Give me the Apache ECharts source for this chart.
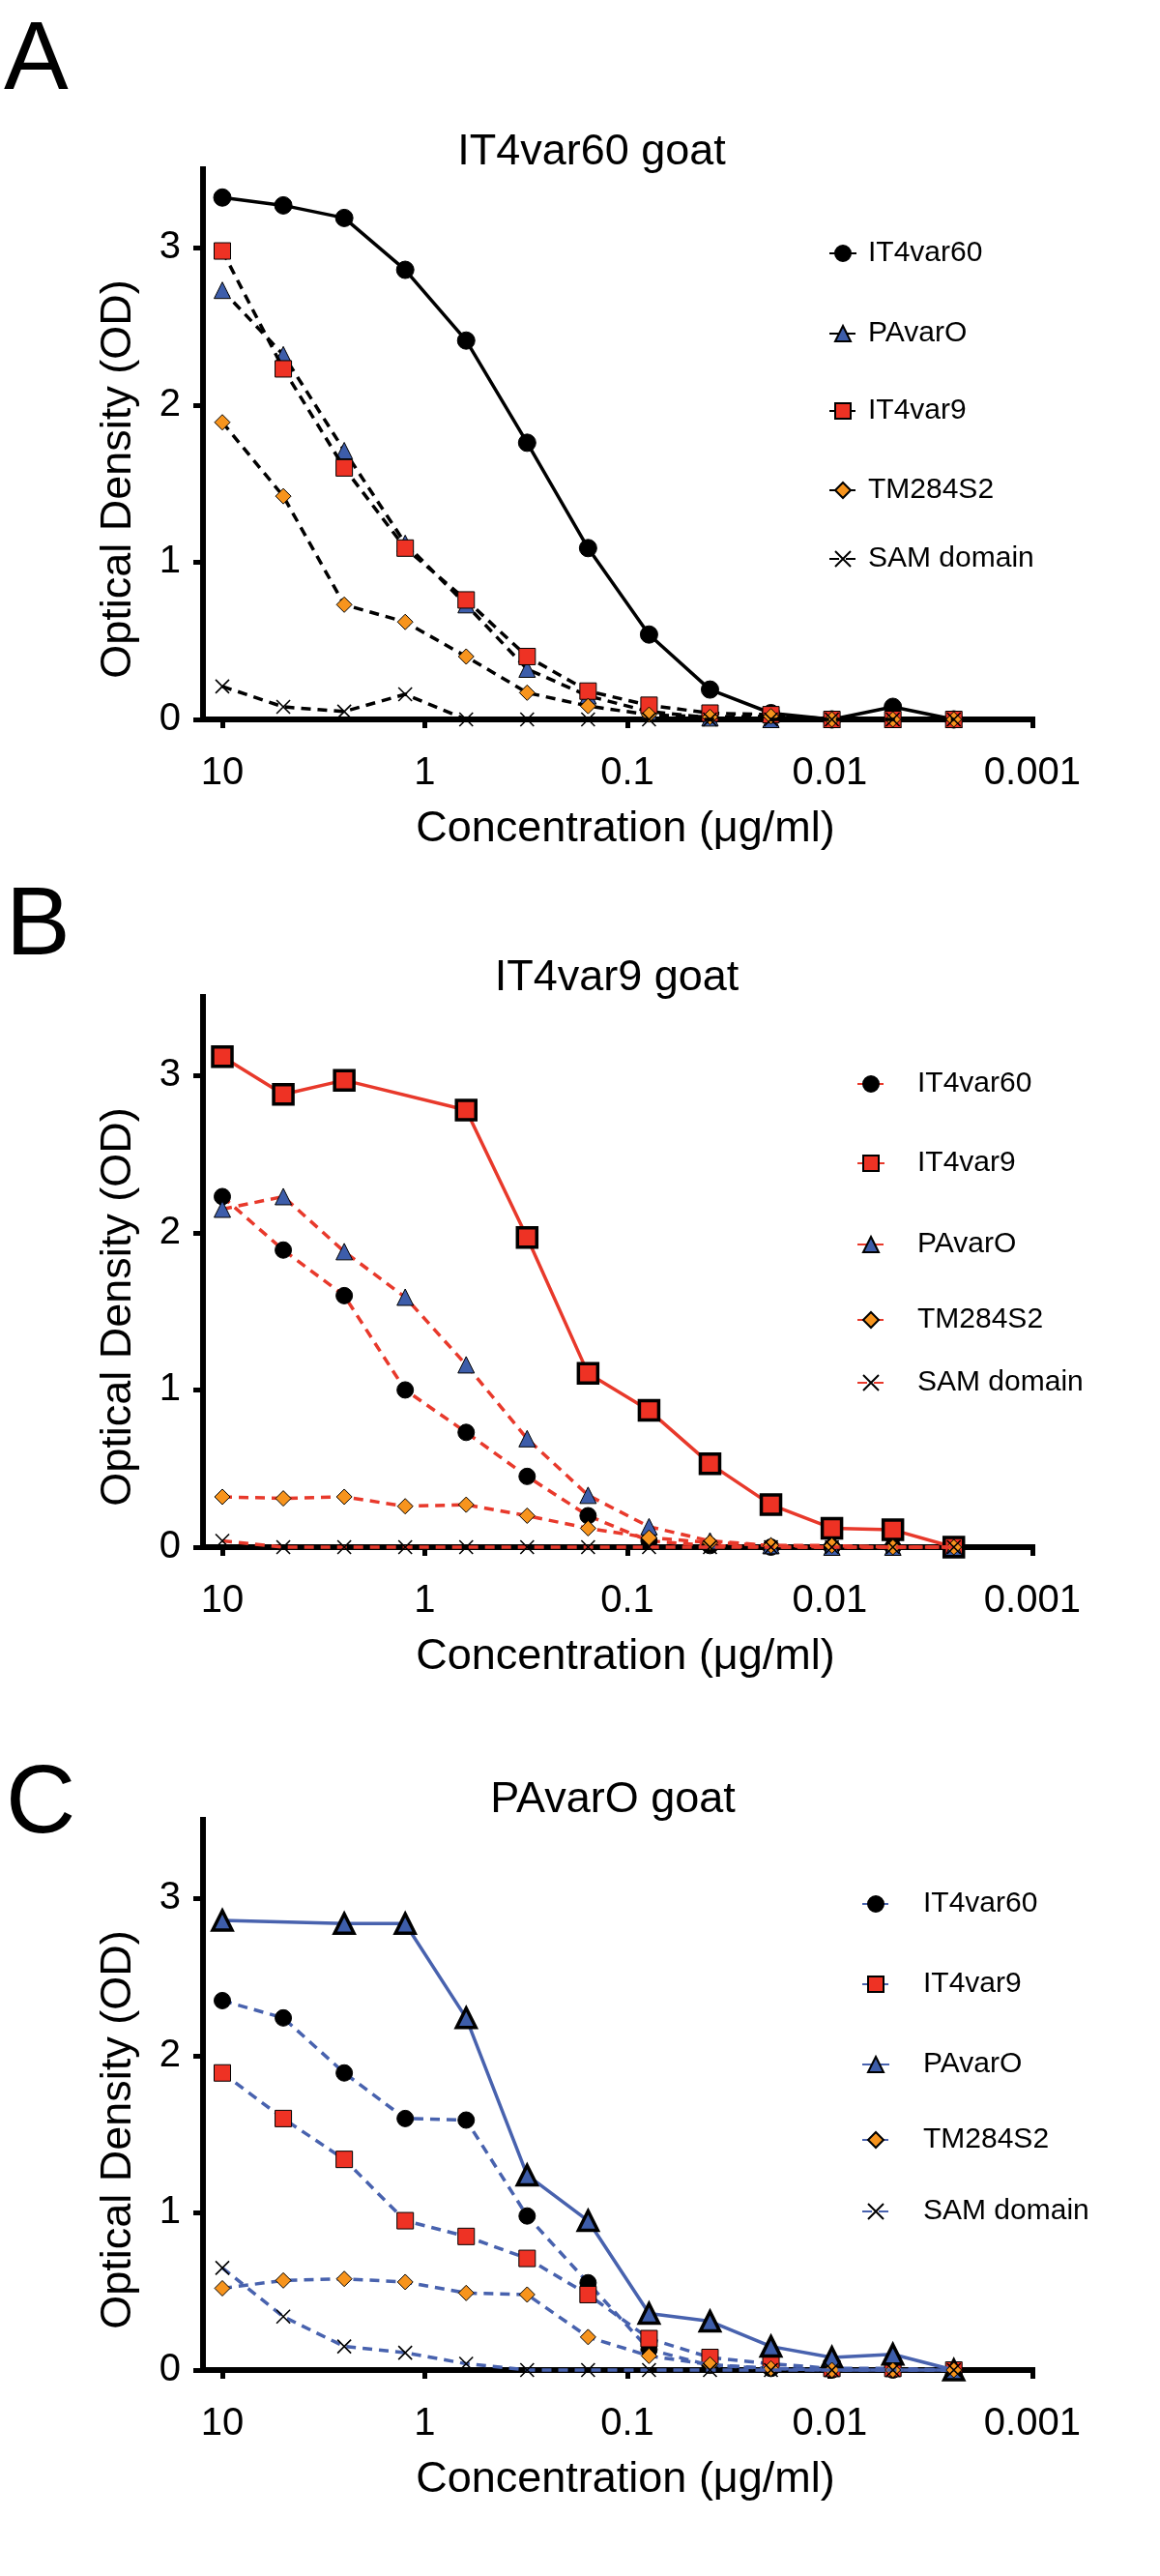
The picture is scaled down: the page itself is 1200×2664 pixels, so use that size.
<!DOCTYPE html>
<html>
<head>
<meta charset="utf-8">
<script src="https://cdn.jsdelivr.net/npm/echarts@6/dist/echarts.min.js"></script>
<style>
html,body{margin:0;padding:0;background:#fff;}
#chart{width:1200px;height:2664px;}
</style>
</head>
<body>
<div id="chart"></div>
<script>
// ---------------- DATA ----------------
const concentrations = [10, 5, 2.5, 1.25, 0.625, 0.3125, 0.15625, 0.078125, 0.0390625, 0.01953125, 0.009765625, 0.0048828125, 0.00244140625];
const xTickValues = [10, 1, 0.1, 0.01, 0.001];
const xTickLabels = ['10', '1', '0.1', '0.01', '0.001'];
const yTickValues = [0, 1, 2, 3];
const yTickLabels = ['0', '1', '2', '3'];

const panelLetters = ['A', 'B', 'C'];
const panelTitles = ['IT4var60 goat', 'IT4var9 goat', 'PAvarO goat'];
const xAxisTitle = 'Concentration (\u03bcg/ml)';
const yAxisTitle = 'Optical Density (OD)';

// legend order of each panel
const orderA = ['IT4var60', 'PAvarO', 'IT4var9', 'TM284S2', 'SAM domain'];
const orderB = ['IT4var60', 'IT4var9', 'PAvarO', 'TM284S2', 'SAM domain'];
const orderC = ['IT4var60', 'IT4var9', 'PAvarO', 'TM284S2', 'SAM domain'];

// Panel A : IT4var60 goat
const A_IT4var60 = [3.32, 3.27, 3.19, 2.86, 2.41, 1.76, 1.09, 0.54, 0.19, 0.04, 0.00, 0.08, 0.00];
const A_PAvarO   = [2.73, 2.32, 1.71, 1.12, 0.73, 0.32, 0.15, 0.05, 0.01, 0.00, 0.00, 0.00, 0.00];
const A_IT4var9  = [2.98, 2.23, 1.60, 1.09, 0.76, 0.40, 0.18, 0.09, 0.04, 0.03, 0.00, 0.00, 0.00];
const A_TM284S2  = [1.89, 1.42, 0.73, 0.62, 0.40, 0.17, 0.085, 0.03, 0.015, 0.02, 0.00, 0.00, 0.00];
const A_SAM      = [0.21, 0.08, 0.05, 0.16, 0.00, 0.00, 0.00, 0.00, 0.00, 0.00, 0.00, 0.00, 0.00];

// Panel B : IT4var9 goat
const B_IT4var60 = [2.23, 1.89, 1.60, 1.00, 0.73, 0.45, 0.20, 0.04, 0.01, 0.00, 0.00, 0.00, 0.00];
const B_IT4var9  = [3.12, 2.88, 2.97, null, 2.78, 1.97, 1.105, 0.87, 0.53, 0.27, 0.12, 0.11, 0.00];
const B_PAvarO   = [2.15, 2.23, 1.88, 1.59, 1.16, 0.69, 0.33, 0.13, 0.04, 0.01, 0.00, 0.00, 0.00];
const B_TM284S2  = [0.32, 0.31, 0.32, 0.26, 0.27, 0.20, 0.12, 0.06, 0.03, 0.01, 0.01, 0.00, 0.00];
const B_SAM      = [0.04, 0.00, 0.00, 0.00, 0.00, 0.00, 0.00, 0.00, 0.00, 0.00, 0.00, 0.00, 0.00];

// Panel C : PAvarO goat
const C_IT4var60 = [2.35, 2.24, 1.89, 1.60, 1.59, 0.98, 0.555, 0.13, 0.03, 0.01, 0.00, 0.00, 0.00];
const C_IT4var9  = [1.89, 1.60, 1.34, 0.95, 0.85, 0.71, 0.48, 0.20, 0.08, 0.04, 0.01, 0.01, 0.00];
const C_PAvarO   = [2.86, null, 2.84, 2.84, 2.24, 1.24, 0.95, 0.36, 0.31, 0.15, 0.08, 0.10, 0.00];
const C_TM284S2  = [0.52, 0.57, 0.58, 0.56, 0.49, 0.48, 0.21, 0.09, 0.035, 0.01, 0.00, 0.00, 0.00];
const C_SAM      = [0.65, 0.34, 0.15, 0.11, 0.04, 0.00, 0.00, 0.00, 0.00, 0.00, 0.00, 0.00, 0.00];

// ---------------- LAYOUT / STYLE ----------------
const FONT = "'Liberation Sans', Arial, Helvetica, sans-serif";
const panels = [
  {key: 'A', top: 175, lineColor: '#000000', solid: 'IT4var60', order: orderA,
   values: {'IT4var60': A_IT4var60, 'PAvarO': A_PAvarO, 'IT4var9': A_IT4var9, 'TM284S2': A_TM284S2, 'SAM domain': A_SAM},
   titleXY: [612, 158], letterXY: [4, 64],
   legend: {left: 857, ys: [262, 345, 425, 507, 578], textPad: 7}},
  {key: 'B', top: 1031, lineColor: '#e8392b', solid: 'IT4var9', order: orderB,
   values: {'IT4var60': B_IT4var60, 'PAvarO': B_PAvarO, 'IT4var9': B_IT4var9, 'TM284S2': B_TM284S2, 'SAM domain': B_SAM},
   titleXY: [638, 1012], letterXY: [6, 959],
   legend: {left: 886, ys: [1121, 1203, 1287, 1365, 1430], textPad: 29}},
  {key: 'C', top: 1882, lineColor: '#4862ae', solid: 'PAvarO', order: orderC,
   values: {'IT4var60': C_IT4var60, 'PAvarO': C_PAvarO, 'IT4var9': C_IT4var9, 'TM284S2': C_TM284S2, 'SAM domain': C_SAM},
   titleXY: [634, 1862], letterXY: [6, 1867],
   legend: {left: 891, ys: [1969, 2052, 2135, 2213, 2287], textPad: 30}}
];
const GRID_LEFT = 210, GRID_W = 858, GRID_H = 569;

const markers = {
  'IT4var60':   {symbol: 'circle',   size: 17, fill: '#000000'},
  'PAvarO':     {symbol: 'triangle', size: 17, fill: '#3d5daa'},
  'IT4var9':    {symbol: 'rect',     size: 17, fill: '#ee3224'},
  'TM284S2':    {symbol: 'diamond',  size: 16, fill: '#f7941d'},
  'SAM domain': {symbol: 'path://M0,0L10,10M10,0L0,10', size: 14, fill: '#000000'}
};

function xLabel(v) {
  let best = 0, bd = Infinity;
  for (let i = 0; i < xTickValues.length; i++) {
    const d = Math.abs(Math.log10(v) - Math.log10(xTickValues[i]));
    if (d < bd) { bd = d; best = i; }
  }
  return xTickLabels[best];
}
function yLabel(v) {
  const i = yTickValues.indexOf(Math.round(v));
  return i >= 0 ? yTickLabels[i] : '';
}

const grid = [], xAxis = [], yAxis = [], series = [], legend = [], graphic = [];

panels.forEach(function (p, pi) {
  grid.push({left: GRID_LEFT, top: p.top, width: GRID_W, height: GRID_H, containLabel: false});
  xAxis.push({
    type: 'log', logBase: 10, gridIndex: pi, inverse: true,
    min: 0.000999, max: 12.46,
    axisLine: {show: true, lineStyle: {color: '#000', width: 6, cap: 'square'}},
    axisTick: {show: true, length: 9, lineStyle: {color: '#000', width: 5}, customValues: xTickValues},
    axisLabel: {show: true, customValues: xTickValues, formatter: xLabel, color: '#000',
                fontSize: 40, fontFamily: FONT, margin: 36},
    splitLine: {show: false}, minorTick: {show: false}, minorSplitLine: {show: false},
    name: xAxisTitle, nameLocation: 'middle', nameGap: 91,
    nameTextStyle: {fontSize: 45, fontFamily: FONT, color: '#000', padding: [0, 0, 0, 16]}
  });
  yAxis.push({
    type: 'value', gridIndex: pi, min: 0, max: 3.5,
    axisLine: {show: true, lineStyle: {color: '#000', width: 6, cap: 'square'}},
    axisTick: {show: true, length: 10, lineStyle: {color: '#000', width: 5}, customValues: yTickValues},
    axisLabel: {show: true, customValues: yTickValues, formatter: yLabel, color: '#000',
                fontSize: 40, fontFamily: FONT, margin: 23},
    splitLine: {show: false},
    name: yAxisTitle, nameLocation: 'middle', nameGap: 65,
    nameTextStyle: {fontSize: 45, fontFamily: FONT, color: '#000', padding: [0, 72, 0, 0]}
  });

  p.order.forEach(function (ag, si) {
    const m = markers[ag];
    const isSolid = ag === p.solid;
    const isX = ag === 'SAM domain';
    const own = isSolid && pi > 0;
    const name = p.key + '|' + ag;
    series.push({
      type: 'line', name: name, xAxisIndex: pi, yAxisIndex: pi,
      data: concentrations.map(function (c, i) { return [c, p.values[ag][i]]; }),
      connectNulls: true,
      symbol: m.symbol,
      symbolSize: own ? 20 : (pi === 0 && isSolid ? 18 : m.size),
      showAllSymbol: true,
      clip: false,
      z: 3 + si,
      lineStyle: {color: p.lineColor, width: isSolid ? 3.5 : 3.5, type: isSolid ? 'solid' : [10, 7]},
      itemStyle: {color: m.fill, borderColor: '#000', borderWidth: isX ? 1.6 : (own ? 3.5 : 1), opacity: 1},
      emphasis: {disabled: true},
      animation: false
    });
    legend.push({
      data: [name], orient: 'vertical', left: p.legend.left, top: p.legend.ys[si] - 15,
      padding: 0, itemWidth: 28, itemHeight: 20, selectedMode: false,
      formatter: function (n) { return n.split('|')[1]; },
      textStyle: {fontSize: 30, fontFamily: FONT, color: '#000', padding: [0, 0, 0, p.legend.textPad], lineHeight: 30}
    });
  });

  graphic.push({
    type: 'text', x: p.titleXY[0], y: p.titleXY[1], z: 100,
    style: {text: panelTitles[pi], fontSize: 45, fontFamily: FONT, fill: '#000',
            align: 'center', verticalAlign: 'middle', textAlign: 'center', textVerticalAlign: 'middle'}
  });
  graphic.push({
    type: 'text', x: p.letterXY[0], y: p.letterXY[1], z: 100,
    style: {text: panelLetters[pi], fontSize: 100, fontFamily: FONT, fill: '#000',
            align: 'left', verticalAlign: 'middle', textAlign: 'left', textVerticalAlign: 'middle'}
  });
});

const chart = echarts.init(document.getElementById('chart'), null, {renderer: 'canvas'});
chart.setOption({
  backgroundColor: '#ffffff',
  animation: false,
  textStyle: {fontFamily: FONT},
  grid: grid, xAxis: xAxis, yAxis: yAxis, series: series, legend: legend, graphic: graphic
});
</script>
</body>
</html>
